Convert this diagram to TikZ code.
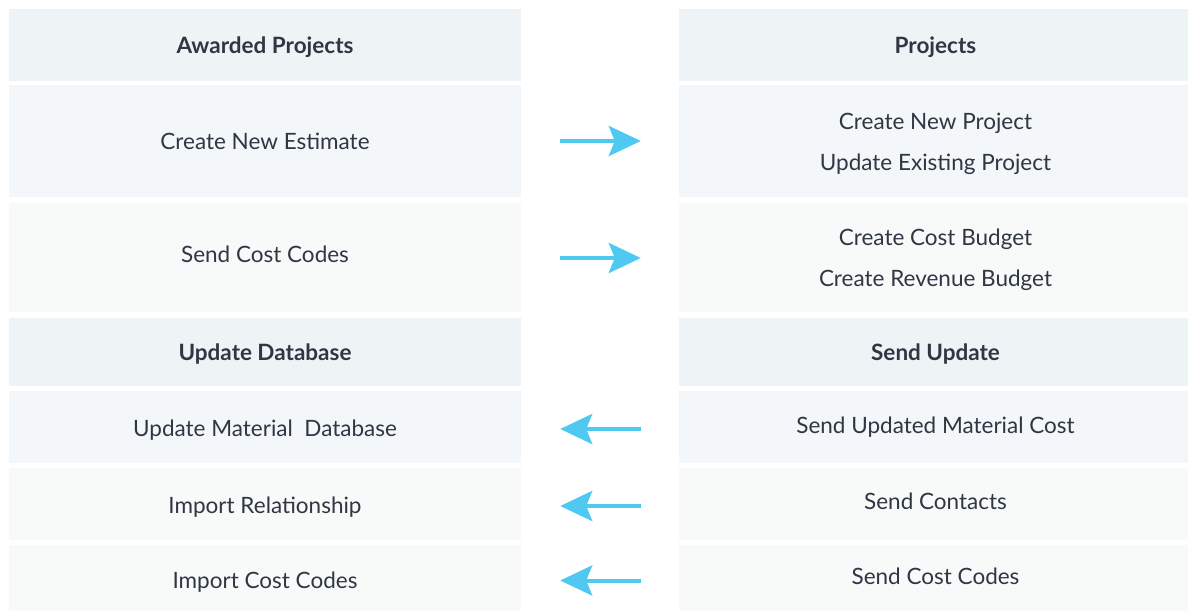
\documentclass[tikz,border=0pt]{standalone}
\usepackage{fontspec}
\setmainfont{Lato}
\usetikzlibrary{arrows.meta}
\definecolor{hdr}{RGB}{238,243,246}
\definecolor{rowa}{RGB}{244,247,249}
\definecolor{rowb}{RGB}{248,250,250}
\definecolor{txt}{RGB}{47,55,68}
\definecolor{arrc}{RGB}{79,201,242}
\begin{document}
\begin{tikzpicture}[x=1pt,y=-1pt,
  cell/.style={draw=none, inner sep=0pt},
  lcell/.style={cell, minimum width=512pt},
  rcell/.style={cell, minimum width=509pt},
  head/.style={fill=hdr},
  lbl/.style={inner sep=0pt, anchor=base, text=txt, font=\fontsize{22.5}{27}\selectfont},
  hlbl/.style={lbl, font=\fontsize{22.5}{27}\selectfont\bfseries},
  arr/.style={draw=arrc, line width=4pt,
    -{Stealth[length=32pt, width=30pt, inset=6pt]}}]
\path[use as bounding box, fill=white] (0,0) rectangle (1188,611);
% left column boxes
\node[lcell, head, minimum height=72pt] (lh1) at (265,45) {};
\node[lcell, fill=rowa, minimum height=112pt] (l1) at (265,141) {};
\node[lcell, fill=rowb, minimum height=109pt] (l2) at (265,257.5) {};
\node[lcell, head, minimum height=68pt] (lh2) at (265,352) {};
\node[lcell, fill=rowa, minimum height=72pt] (l3) at (265,427) {};
\node[lcell, fill=rowb, minimum height=72pt] (l4) at (265,504) {};
\node[lcell, fill=rowb, minimum height=66pt] (l5) at (265,578) {};
% right column boxes
\node[rcell, head, minimum height=72pt] (rh1) at (933.5,45) {};
\node[rcell, fill=rowa, minimum height=112pt] (r1) at (933.5,141) {};
\node[rcell, fill=rowb, minimum height=109pt] (r2) at (933.5,257.5) {};
\node[rcell, head, minimum height=68pt] (rh2) at (933.5,352) {};
\node[rcell, fill=rowa, minimum height=72pt] (r3) at (933.5,427) {};
\node[rcell, fill=rowb, minimum height=72pt] (r4) at (933.5,504) {};
\node[rcell, fill=rowb, minimum height=66pt] (r5) at (933.5,578) {};
% left labels
\node[hlbl] (tlh1) at (265,53) {Awarded Projects};
\node[lbl] (tl1) at (265,149) {Create New Estimate};
\node[lbl] (tl2) at (265,262) {Send Cost Codes};
\node[hlbl] (tlh2) at (265,360) {Update Database};
\node[lbl] (tl3) at (265,436) {Update Material\ \ Database};
\node[lbl] (tl4) at (265,513) {Import Relationship};
\node[lbl] (tl5) at (265,588) {Import Cost Codes};
% right labels
\node[hlbl] (trh1) at (935.5,53) {Projects};
\node[lbl] (tr1a) at (935.5,129) {Create New Project};
\node[lbl] (tr1b) at (935.5,170) {Update Existing Project};
\node[lbl] (tr2a) at (935.5,245) {Create Cost Budget};
\node[lbl] (tr2b) at (935.5,286) {Create Revenue Budget};
\node[hlbl] (trh2) at (935.5,360) {Send Update};
\node[lbl] (tr3) at (935.5,433) {Send Updated Material Cost};
\node[lbl] (tr4) at (935.5,509) {Send Contacts};
\node[lbl] (tr5) at (935.5,584) {Send Cost Codes};
% arrows
\draw[arr] ([xshift=39pt]l1.east) -- ([xshift=-38pt]r1.west);
\draw[arr] ([xshift=39pt,yshift=-0.5pt]l2.east) -- ([xshift=-38pt,yshift=-0.5pt]r2.west);
\draw[arr] ([xshift=-38pt,yshift=-2pt]r3.west) -- ([xshift=39pt,yshift=-2pt]l3.east);
\draw[arr] ([xshift=-38pt,yshift=-2pt]r4.west) -- ([xshift=39pt,yshift=-2pt]l4.east);
\draw[arr] ([xshift=-38pt,yshift=-2.5pt]r5.west) -- ([xshift=39pt,yshift=-2.5pt]l5.east);
\end{tikzpicture}
\end{document}
